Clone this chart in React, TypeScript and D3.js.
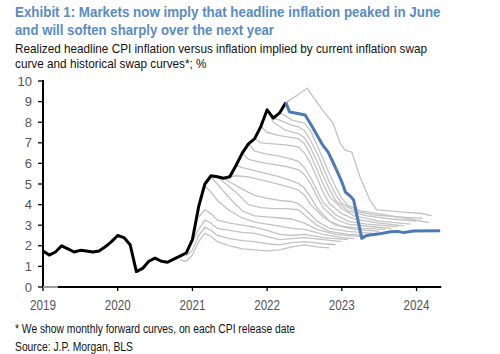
import React from "react";
import * as d3 from "d3";

// Realized headline CPI inflation, monthly from Jan 2019 (index 0) to Apr 2022
const realizedCPI: number[] = [
  1.75, 1.55, 1.7, 2.0, 1.85, 1.7, 1.78, 1.75, 1.7, 1.75, 1.95, 2.2,
  2.5, 2.4, 2.05, 0.75, 0.9, 1.25, 1.4, 1.25, 1.2, 1.35, 1.5, 1.65,
  2.3, 3.9, 5.0, 5.4, 5.35, 5.28, 5.35, 5.9, 6.5, 6.95, 7.2, 7.8,
  8.6, 8.2, 8.45, 8.95,
];

// Current inflation swap curve: [months since Jan 2019, %]
const currentCurve: [number, number][] = [
  [39, 8.95], [39.6, 8.5], [40.5, 8.45], [42.1, 8.35], [43.2, 7.8], [44.8, 6.95],
  [45.8, 6.55], [46.9, 5.85], [48.0, 5.1], [48.6, 4.6], [49.4, 4.4], [49.9, 4.22],
  [51.2, 2.36], [52.0, 2.5], [54.0, 2.58], [55.8, 2.68], [57.0, 2.7], [57.9, 2.64],
  [59.5, 2.72], [63.8, 2.73],
];

// Historical monthly forward curves: [months since Jan 2019, %]
const curveNov20: [number, number][] = [[22,1.3],[23,1.25],[24,1.55],[25,2.2],[26,2.6],[27,2.45],[28,2.2],[30,2.0],[32,1.85],[34,1.8],[36,1.75],[38,1.8],[40,1.95],[42,2.05],[44,1.95],[46,1.9]];
const curveDec20: [number, number][] = [[23,1.5],[24,1.8],[25,2.5],[26,2.9],[27,2.75],[28,2.5],[30,2.35],[32,2.25],[34,2.2],[36,2.1],[38,2.05],[40,2.15],[42,2.2],[45,2.1],[47,2.05]];
const curveJan21: [number, number][] = [[24,2.2],[25,2.8],[26,3.25],[27,3.1],[28,2.85],[30,2.75],[32,2.65],[34,2.6],[36,2.45],[38,2.3],[40,2.35],[42,2.4],[45,2.3],[48,2.2]];
const curveFeb21: [number, number][] = [[25,3.4],[26,3.75],[27,3.55],[28,3.25],[30,3.1],[32,3.0],[34,2.9],[36,2.75],[38,2.55],[40,2.5],[42,2.55],[45,2.4],[49,2.3]];
const curveMar21: [number, number][] = [[26,4.9],[27,4.6],[28,4.2],[30,3.7],[32,3.35],[34,3.15],[36,3.05],[38,2.95],[40,2.85],[42,2.8],[45,2.55],[48,2.4],[50,2.35]];
const curveApr21: [number, number][] = [[27,5.35],[28,5.0],[30,4.3],[32,3.7],[34,3.45],[36,3.4],[38,3.35],[40,3.3],[42,3.1],[44,2.8],[47,2.55],[51,2.45]];
const curveMay21: [number, number][] = [[28,5.35],[29,5.1],[31,4.6],[33,4.0],[35,3.85],[37,3.8],[39,3.8],[41,3.75],[42,3.5],[44,3.0],[46,2.7],[49,2.55],[52,2.5]];
const curveJun21: [number, number][] = [[29,5.3],[30,5.1],[32,4.75],[34,4.45],[36,4.3],[38,4.2],[40,4.15],[41,4.05],[42,3.8],[44,3.2],[46,2.85],[49,2.7],[53,2.6]];
const curveJul21: [number, number][] = [[30,5.35],[31,5.4],[33,5.35],[35,5.2],[37,5.05],[39,4.9],[41,4.7],[42,4.45],[43,4.0],[45,3.4],[47,3.0],[50,2.8],[54,2.7]];
const curveAug21: [number, number][] = [[31,5.9],[32,5.8],[34,5.65],[36,5.5],[38,5.35],[40,5.15],[41,5.03],[42,4.8],[43,4.35],[44,3.85],[46,3.2],[48,2.95],[51,2.85],[55,2.8]];
const curveSep21: [number, number][] = [[32,6.5],[33,6.2],[35,6.05],[37,5.95],[39,5.85],[41,5.7],[42,5.45],[43,5.0],[44,4.4],[45,3.85],[47,3.3],[49,3.05],[52,2.95],[56,2.85]];
const curveOct21: [number, number][] = [[33,6.95],[34,6.6],[36,6.45],[38,6.35],[40,6.2],[41,6.1],[42,5.8],[43,5.3],[44,4.7],[45,4.1],[47,3.5],[49,3.2],[52,3.05],[57,2.93]];
const curveNov21: [number, number][] = [[34,7.2],[35,7.0],[37,6.95],[39,6.9],[41,6.8],[42,6.5],[43,6.0],[44,5.3],[45,4.6],[46,4.05],[48,3.55],[50,3.3],[54,3.1],[58,2.97]];
const curveDec21: [number, number][] = [[35,7.8],[36,7.5],[38,7.35],[40,7.25],[41,7.2],[42,6.95],[43,6.4],[44,5.7],[45,5.0],[46,4.4],[48,3.8],[50,3.45],[54,3.2],[59,3.05]];
const curveJan22: [number, number][] = [[36,8.6],[37,8.0],[39,7.6],[41,7.45],[42,7.25],[43,6.75],[44,6.1],[45,5.4],[46,4.75],[47,4.2],[49,3.7],[52,3.45],[56,3.3],[60,3.2]];
const curveFeb22: [number, number][] = [[37,8.2],[38,8.1],[40,7.85],[41,7.78],[42,7.6],[43,7.1],[44,6.5],[45,5.8],[46,5.1],[47,4.5],[48,4.05],[50,3.7],[53,3.5],[57,3.4],[61,3.33]];
const curveMar22: [number, number][] = [[38,8.45],[39,8.3],[40,8.1],[42,7.95],[43,7.55],[44,6.9],[45,6.2],[46,5.5],[47,4.85],[48,4.3],[49,3.95],[51,3.7],[54,3.55],[58,3.35],[62,3.12]];
const curveApr22: [number, number][] = [[39,8.95],[40.8,9.3],[42.4,9.65],[43.7,9.1],[45.0,8.55],[46.6,7.95],[47.7,7.0],[48.5,6.65],[49.6,6.55],[50.9,5.35],[52.5,4.22],[53.6,3.74],[55.7,3.7],[57.3,3.65],[60.6,3.58],[62.4,3.46]];
const curveEarly19: [number, number][] = [[0,0],[2.4,0]];

const historicalCurves = [
  curveEarly19, curveNov20, curveDec20, curveJan21, curveFeb21, curveMar21, curveApr21,
  curveMay21, curveJun21, curveJul21, curveAug21, curveSep21, curveOct21, curveNov21,
  curveDec21, curveJan22, curveFeb22, curveMar22, curveApr22,
];

const yTicks = [0, 1, 2, 3, 4, 5, 6, 7, 8, 9, 10];
const xTicks = [2019, 2020, 2021, 2022, 2023, 2024];

const titleLines = [
  "Exhibit 1:  Markets now imply that headline inflation peaked in June",
  "and will soften sharply over the next year",
];
const subtitleLines = [
  "Realized headline CPI inflation versus inflation implied by current inflation swap",
  "curve and historical swap curves*; %",
];
const footLines = [
  "* We show monthly forward curves, on each CPI release date",
  "Source: J.P. Morgan, BLS",
];

const FONT = "'Liberation Sans', Arial, Helvetica, sans-serif";

export default function App() {
  const x = d3.scaleLinear().domain([2019, 2024.33]).range([43, 441.2]);
  const y = d3.scaleLinear().domain([0, 10]).range([287, 81]);
  const mx = (m: number) => x(2019 + m / 12);

  const line = d3
    .line<[number, number]>()
    .x((d) => mx(d[0]))
    .y((d) => y(d[1]));

  const realized: [number, number][] = realizedCPI.map((v, i) => [i, v]);

  return (
    <svg
      width={500}
      height={354}
      style={{ position: "absolute", left: 0, top: 0, background: "#fff" }}
      fontFamily={FONT}
    >
      <rect width={500} height={354} fill="#fff" />
      {/* Title */}
      <text x={15} y={16.7} fontSize={14.5} fontWeight="bold" fill="#5b8bc3" textLength={425.5} lengthAdjust="spacingAndGlyphs">
        {titleLines[0]}
      </text>
      <text x={15} y={35} fontSize={14.5} fontWeight="bold" fill="#5b8bc3" textLength={259} lengthAdjust="spacingAndGlyphs">
        {titleLines[1]}
      </text>
      <text x={15} y={52.7} fontSize={13.5} fill="#111" textLength={412} lengthAdjust="spacingAndGlyphs">
        {subtitleLines[0]}
      </text>
      <text x={15} y={67.7} fontSize={13.5} fill="#111" textLength={191.5} lengthAdjust="spacingAndGlyphs">
        {subtitleLines[1]}
      </text>

      {/* Historical curves */}
      <g fill="none" stroke="#c3c3c3" strokeWidth={1.3} strokeLinejoin="round">
        {historicalCurves.slice(1).map((c, i) => (
          <path key={i} d={line(c) || ""} />
        ))}
      </g>

      {/* Axes */}
      <line x1={43} x2={43} y1={y(0) + 1} y2={80} stroke="#000" strokeWidth={2} />
      {yTicks.map((t) => (
        <g key={t}>
          <line x1={38} x2={43} y1={y(t)} y2={y(t)} stroke="#000" strokeWidth={1.3} />
          <text x={32} y={y(t) + 4.6} fontSize={13} fill="#555" textAnchor="end">
            {t}
          </text>
        </g>
      ))}
      <line x1={42} x2={441.2} y1={y(0)} y2={y(0)} stroke="#000" strokeWidth={2} />
      {xTicks.map((t) => (
        <g key={t}>
          <line x1={x(t)} x2={x(t)} y1={y(0)} y2={y(0) + 4} stroke="#000" strokeWidth={1.3} />
          <text x={x(t)} y={310} fontSize={15.5} fill="#555" textAnchor="middle" textLength={26} lengthAdjust="spacingAndGlyphs">
            {t}
          </text>
        </g>
      ))}
      <path d={line(historicalCurves[0]) || ""} fill="none" stroke="#c3c3c3" strokeWidth={1.6} />

      {/* Realized CPI */}
      <path d={line(realized) || ""} fill="none" stroke="#000" strokeWidth={3} strokeLinejoin="round" />
      {/* Current swap curve */}
      <path d={line(currentCurve) || ""} fill="none" stroke="#4a79b6" strokeWidth={3} strokeLinejoin="round" />

      {/* Footnotes */}
      <text x={15} y={332.7} fontSize={12.5} fill="#111" textLength={280} lengthAdjust="spacingAndGlyphs">
        {footLines[0]}
      </text>
      <text x={15} y={350.5} fontSize={12.5} fill="#111" textLength={118} lengthAdjust="spacingAndGlyphs">
        {footLines[1]}
      </text>
    </svg>
  );
}
